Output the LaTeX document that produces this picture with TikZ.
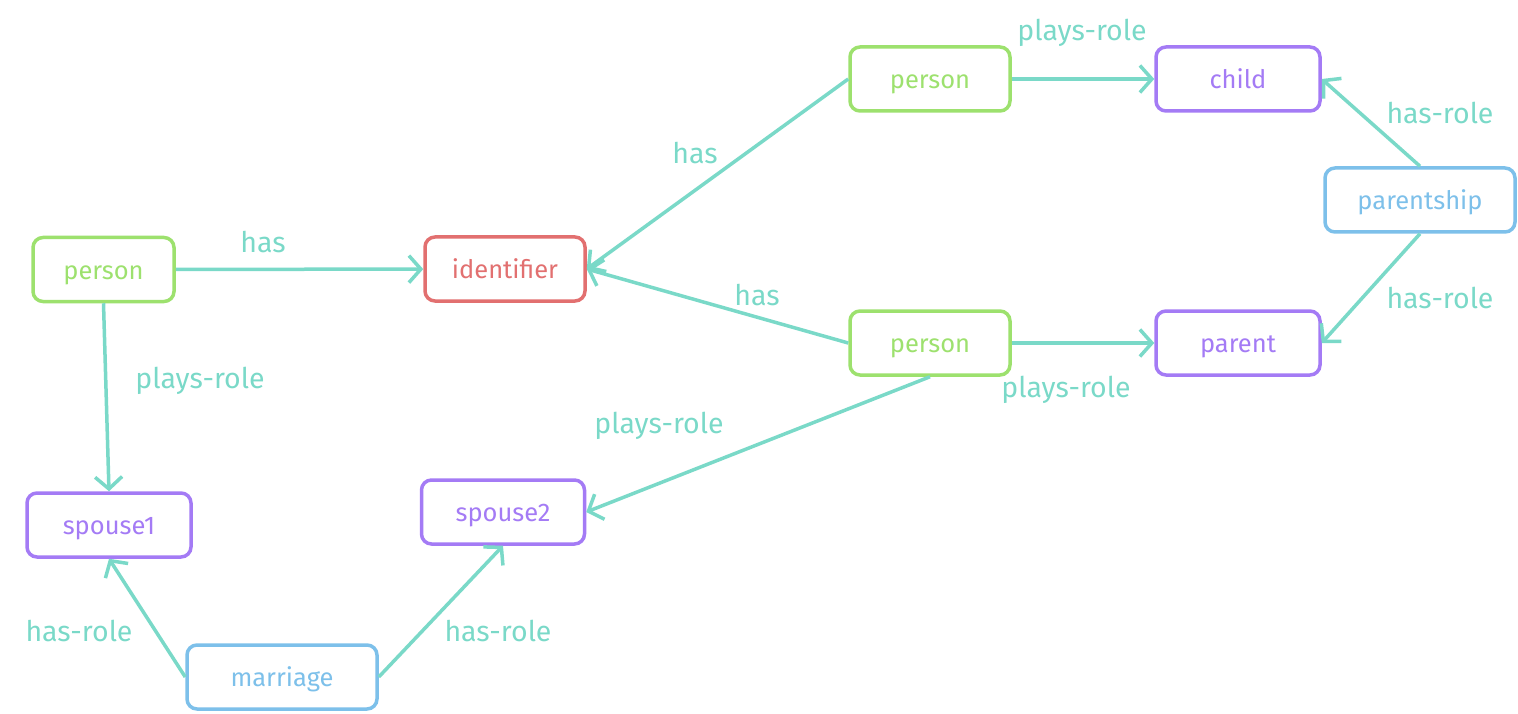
\documentclass[tikz,border=0pt]{standalone}
\usepackage{fontspec}
\setmainfont{Fira Sans}
\usepackage{tikz}
\usetikzlibrary{positioning}
\usetikzlibrary{arrows.meta}

\definecolor{edgeteal}{RGB}{122,217,200}
\definecolor{entgreen}{RGB}{157,225,110}
\definecolor{attrred}{RGB}{226,112,112}
\definecolor{rolepurple}{RGB}{164,123,245}
\definecolor{relblue}{RGB}{125,192,234}

\begin{document}
\begin{tikzpicture}[x=1pt,y=-1pt]

\tikzstyle{box}=[rectangle, rounded corners=10pt, line width=3.5pt, fill=white, minimum height=64pt, text height=19pt, text depth=0pt, font=\fontsize{25.5}{30}\selectfont]
\tikzstyle{entity}=[box, draw=entgreen, text=entgreen, minimum width=160pt]
\tikzstyle{attribute}=[box, draw=attrred, text=attrred, minimum width=160pt]
\tikzstyle{role}=[box, draw=rolepurple, text=rolepurple, minimum width=164pt]
\tikzstyle{relation}=[box, draw=relblue, text=relblue, minimum width=190pt]
\tikzstyle{link}=[draw=edgeteal, line width=3.5pt, -{Straight Barb[length=12pt,width=27pt,line width=3.5pt]}]
\tikzstyle{lbl}=[text=edgeteal, font=\fontsize{28.5}{32}\selectfont]

\useasboundingbox (0,0) rectangle (1518,714);

% nodes
\node[entity, minimum width=141pt] (person1) at (103.5,269.5) {person};
\node[attribute] (identifier) at (505,269) {identifier};
\node[entity] (person2) at (930,79) {person};
\node[role] (child) at (1238,79) {child};
\node[relation] (parentship) at (1420,200) {parentship};
\node[entity] (person3) at (930,343) {person};
\node[role] (parent) at (1238,343) {parent};
\node[role] (spouse1) at (109,525) {spouse1};
\node[role, minimum width=163pt] (spouse2) at (503,512) {spouse2};
\node[relation] (marriage) at (282,677) {marriage};

% labels
\node[lbl] (l1) at (263,242) {has};
\node[lbl] (l2) at (200,381) {plays-role};
\node[lbl] (l3) at (695,153) {has};
\node[lbl] (l4) at (757,295) {has};
\node[lbl] (l5) at (1082,33) {plays-role};
\node[lbl] (l6) at (1066,390) {plays-role};
\node[lbl] (l7) at (1440,113) {has-role};
\node[lbl] (l8) at (1440,298) {has-role};
\node[lbl] (l9) at (659,426) {plays-role};
\node[lbl] (l10) at (79,631) {has-role};
\node[lbl] (l11) at (498,631) {has-role};

% edges
\draw[link] (person1) -- (identifier);
\draw[link] (person1.south) -- (spouse1.north);
\draw[link] (person2.west) -- (identifier.east);
\draw[link] (person3.west) -- (identifier.east);
\draw[link] (person2) -- (child);
\draw[link] (person3) -- (parent);
\draw[link] (parentship.north) -- (child.east);
\draw[link] (parentship.south) -- (parent.east);
\draw[link] (person3.south) -- (spouse2.east);
\draw[link] (marriage.west) -- (spouse1.south);
\draw[link] (marriage.east) -- (spouse2.south);

\end{tikzpicture}
\end{document}
